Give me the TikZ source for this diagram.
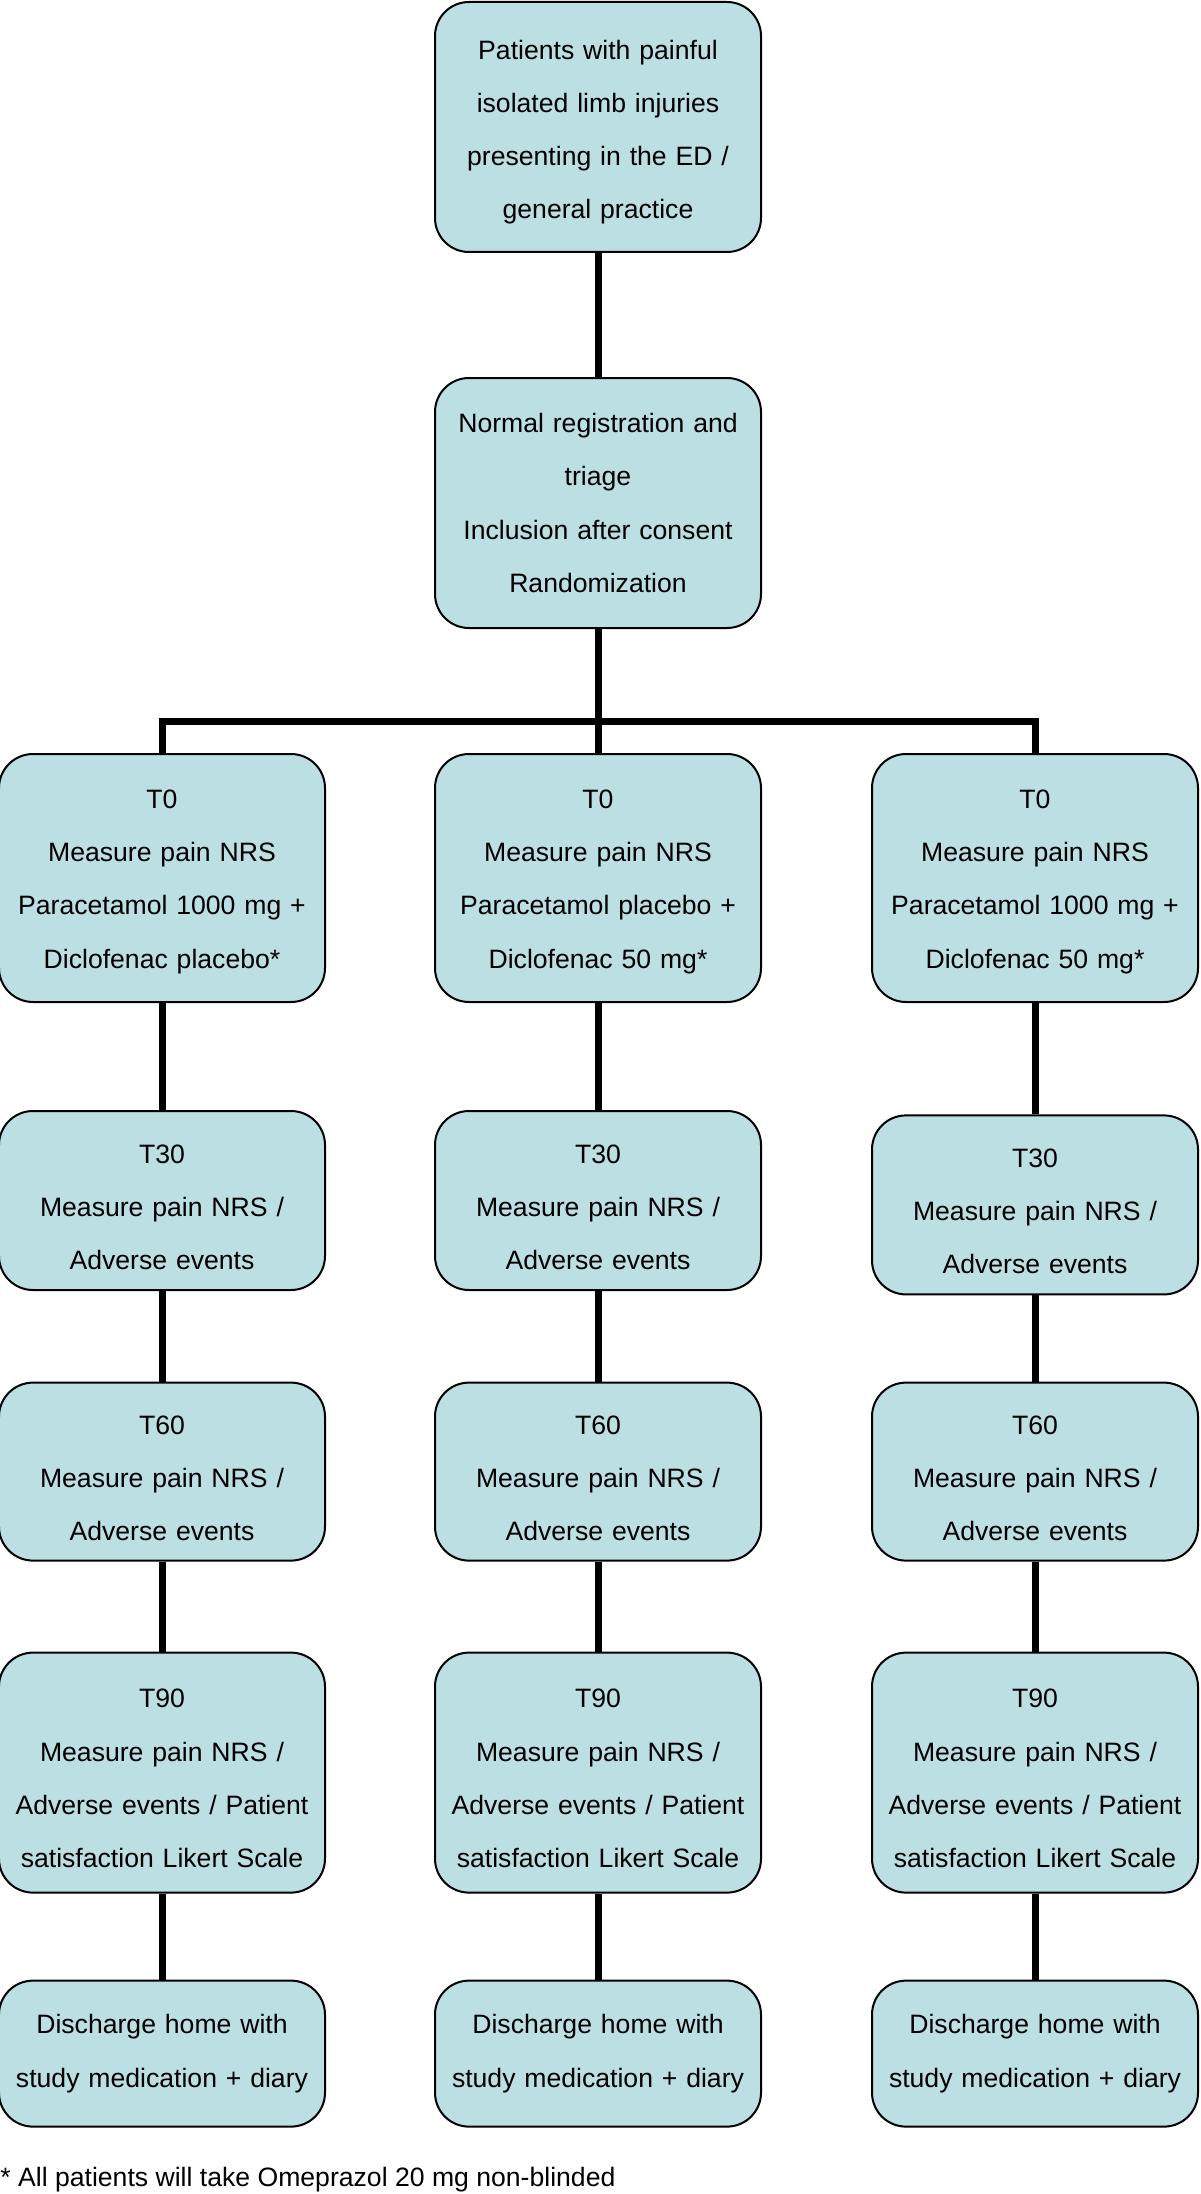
\documentclass[tikz,border=0pt]{standalone}
\usepackage{fontspec}
\setmainfont{Liberation Sans}
\usepackage{tikz}
\usetikzlibrary{positioning,calc}

\definecolor{boxfill}{RGB}{187,223,226}
\newcommand{\boxfont}{\fontsize{13.3}{26.6}\selectfont}
\tikzset{
  stepbox/.style={draw=black, line width=1pt, fill=boxfill, rounded corners=17pt,
    minimum width=163pt, text width=155pt, align=center, font=\boxfont},
  link/.style={line width=3.5pt},
}

\begin{document}
\begin{tikzpicture}[node distance=45pt]

  \useasboundingbox (0,0) rectangle (600pt,-1097pt);

  \node[stepbox, minimum height=125pt, text height=14.6pt, anchor=north] (pat) at (299pt,-0.5pt)
    {Patients with painful\\isolated limb injuries\\presenting in the ED /\\general practice};
  \node[stepbox, minimum height=125pt] (reg) [below=62pt of pat]
    {Normal registration and\\triage\\Inclusion after consent\\Randomization};

  % T0
  \node[stepbox, minimum height=124pt, text height=13.1pt] (b0) [below=62pt of reg]
    {T0\\Measure pain NRS\\Paracetamol placebo +\\Diclofenac 50 mg*};
  \node[stepbox, minimum height=124pt, text height=13.1pt] (a0) [left=54pt of b0]
    {T0\\Measure pain NRS\\Paracetamol 1000 mg +\\Diclofenac placebo*};
  \node[stepbox, minimum height=124pt, text height=13.1pt] (c0) [right=54.5pt of b0]
    {T0\\Measure pain NRS\\Paracetamol 1000 mg +\\Diclofenac 50 mg*};

  % T30
  \node[stepbox, minimum height=89.5pt, text height=16pt] (a30) [below=53.5pt of a0]
    {T30\\Measure pain NRS /\\Adverse events};
  \node[stepbox, minimum height=89.5pt, text height=16pt] (b30) [below=53.5pt of b0]
    {T30\\Measure pain NRS /\\Adverse events};
  \node[stepbox, minimum height=89.5pt, text height=16pt] (c30) [below=55.7pt of c0]
    {T30\\Measure pain NRS /\\Adverse events};

  % T60
  \node[stepbox, minimum height=89pt, text height=16pt] (a60) [below=45.3pt of a30]
    {T60\\Measure pain NRS /\\Adverse events};
  \node[stepbox, minimum height=89pt, text height=16pt] (b60) [below=45.3pt of b30]
    {T60\\Measure pain NRS /\\Adverse events};
  \node[stepbox, minimum height=89pt, text height=16pt] (c60) [below=43.1pt of c30]
    {T60\\Measure pain NRS /\\Adverse events};

  % T90
  \node[stepbox, minimum height=120pt, text height=15.2pt] (a90) [below=45pt of a60]
    {T90\\Measure pain NRS /\\Adverse events / Patient\\satisfaction Likert Scale};
  \node[stepbox, minimum height=120pt, text height=15.2pt] (b90) [below=45pt of b60]
    {T90\\Measure pain NRS /\\Adverse events / Patient\\satisfaction Likert Scale};
  \node[stepbox, minimum height=120pt, text height=15.2pt] (c90) [below=45pt of c60]
    {T90\\Measure pain NRS /\\Adverse events / Patient\\satisfaction Likert Scale};

  % discharge
  \node[stepbox, minimum height=73pt] (ahome) [below=43pt of a90]
    {Discharge home with\\study medication + diary};
  \node[stepbox, minimum height=73pt] (bhome) [below=43pt of b90]
    {Discharge home with\\study medication + diary};
  \node[stepbox, minimum height=73pt] (chome) [below=43pt of c90]
    {Discharge home with\\study medication + diary};

  \node[anchor=west, inner sep=0pt, font=\boxfont] (note) at (0pt,-1090pt)
    {* All patients will take Omeprazol 20 mg non-blinded};

  \path[link] (pat) edge (reg);
  \path[link] (reg) edge (b0);
  \draw[link] (reg.south) -- ++(0,-46pt) -| (a0.north);
  \draw[link] (reg.south) -- ++(0,-46pt) -| (c0.north);

  \path[link] (a0) edge (a30);
  \path[link] (a30) edge (a60);
  \path[link] (a60) edge (a90);
  \path[link] (a90) edge (ahome);
  \path[link] (b0) edge (b30);
  \path[link] (b30) edge (b60);
  \path[link] (b60) edge (b90);
  \path[link] (b90) edge (bhome);
  \path[link] (c0) edge (c30);
  \path[link] (c30) edge (c60);
  \path[link] (c60) edge (c90);
  \path[link] (c90) edge (chome);

\end{tikzpicture}
\end{document}
